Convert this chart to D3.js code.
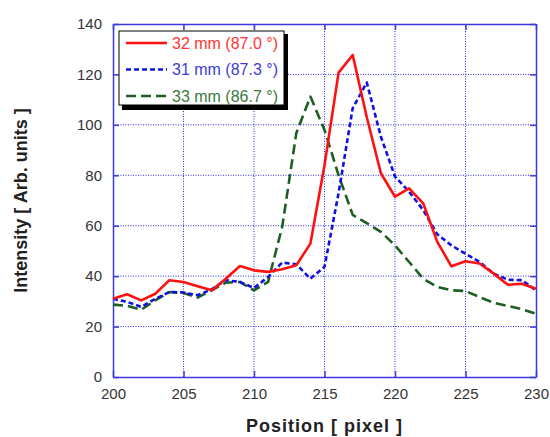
<!DOCTYPE html>
<html>
<head>
<meta charset="utf-8">
<script src="https://cdn.jsdelivr.net/npm/d3@7"></script>
<style>
  body { margin: 0; background: #fff; }
  text { font-family: "Liberation Sans", Arial, Helvetica, sans-serif; }
</style>
</head>
<body>
<svg id="chart"></svg>
<script>
// pixel positions 200..230
const positions = d3.range(200, 231);

const red32 = [31, 32.8, 30.4, 33, 38.4, 37.7, 36, 34.4, 39, 44,
  42.3, 41.7, 42.7, 44.3, 52.9, 84, 120.7, 127.7, 103, 80.8,
  71.5, 74.8, 68.9, 53.6, 43.9, 45.9, 45, 41, 36.6, 37, 35];

const blue31 = [31, 29.8, 27.8, 31, 33.7, 33.5, 32.4, 34.8, 38.4, 37.7,
  35.3, 39.7, 45.4, 44.7, 39, 43.7, 73, 106.6, 116.8, 95.3,
  79.5, 73.5, 66.2, 56.6, 52.2, 48.9, 45.6, 41, 38.6, 38.4, 34.4];

const green33 = [28.7, 28.2, 26.7, 30.4, 33.7, 33.3, 31.5, 34.4, 37.4, 37.7,
  34.4, 37.7, 59.6, 96.7, 111.2, 98, 80, 64.3, 61, 57.6,
  52.2, 45.6, 39, 35.7, 34.4, 34.1, 31.7, 29.4, 28.2, 26.9, 25.1];

const seriesNames = ['32 mm (87.0 °)', '31 mm (87.3 °)', '33 mm (86.7 °)'];
const xTicks = [200, 205, 210, 215, 220, 225, 230];
const yTicks = [0, 20, 40, 60, 80, 100, 120, 140];

const width = 550;
const height = 437;
const margin = { top: 24, right: 14, bottom: 60, left: 113 };

const svg = d3.select('#chart')
  .attr('width', width)
  .attr('height', height);

const x = d3.scaleLinear()
  .domain([200, 230])
  .range([margin.left, width - margin.right]);

const y = d3.scaleLinear()
  .domain([0, 140])
  .range([height - margin.bottom, margin.top]);

const axisColor = '#3a3ae0';

// grid
svg.append('g')
  .selectAll('line')
  .data(xTicks.slice(1, -1))
  .join('line')
  .attr('x1', d => x(d)).attr('x2', d => x(d))
  .attr('y1', y(0)).attr('y2', y(140))
  .attr('stroke', '#2a2ae8')
  .attr('stroke-width', 1)
  .attr('stroke-dasharray', '1,1.5');

svg.append('g')
  .selectAll('line')
  .data(yTicks.slice(1, -1))
  .join('line')
  .attr('x1', x(200)).attr('x2', x(230))
  .attr('y1', d => y(d)).attr('y2', d => y(d))
  .attr('stroke', '#2a2ae8')
  .attr('stroke-width', 1)
  .attr('stroke-dasharray', '1,1.5');

// axes (ticks pointing inwards on all four sides)
const styleAxis = g => {
  g.select('.domain').attr('stroke', axisColor).attr('stroke-width', 1.5);
  g.selectAll('.tick line').attr('stroke', axisColor).attr('stroke-width', 1.5);
  g.selectAll('.tick text')
    .attr('fill', '#333')
    .attr('font-size', '15px')
    .attr('font-family', '"Liberation Sans", Arial, sans-serif');
};

svg.append('g')
  .attr('transform', `translate(0,${y(0)})`)
  .call(d3.axisBottom(x).tickValues(xTicks).tickSize(-6).tickSizeOuter(0).tickPadding(11))
  .call(styleAxis);

svg.append('g')
  .attr('transform', `translate(0,${y(140)})`)
  .call(d3.axisTop(x).tickValues(xTicks).tickSize(-6).tickSizeOuter(0).tickFormat(''))
  .call(styleAxis);

svg.append('g')
  .attr('transform', `translate(${x(200)},0)`)
  .call(d3.axisLeft(y).tickValues(yTicks).tickSize(-6).tickSizeOuter(0).tickPadding(11))
  .call(styleAxis);

svg.append('g')
  .attr('transform', `translate(${x(230)},0)`)
  .call(d3.axisRight(y).tickValues(yTicks).tickSize(-6).tickSizeOuter(0).tickFormat(''))
  .call(styleAxis);

// series
const series = [
  { name: seriesNames[0], values: red32, color: '#ff1010', text: '#ff3535', dash: null },
  { name: seriesNames[1], values: blue31, color: '#1010e6', text: '#3c3cd8', dash: '5,3' },
  { name: seriesNames[2], values: green33, color: '#1d5e22', text: '#3a7a3e', dash: '10,5' }
];

const line = d3.line()
  .x((d, i) => x(positions[i]))
  .y(d => y(d));

// draw green first, then blue, then red on top
[2, 1, 0].forEach(k => {
  const s = series[k];
  svg.append('path')
    .datum(s.values)
    .attr('d', line)
    .attr('fill', 'none')
    .attr('stroke', s.color)
    .attr('stroke-width', 2.6)
    .attr('stroke-linejoin', 'round')
    .attr('stroke-dasharray', s.dash);
});

// legend
const lg = svg.append('g').attr('transform', 'translate(119,31)');
lg.append('rect')
  .attr('x', 3).attr('y', 3)
  .attr('width', 166).attr('height', 76)
  .attr('fill', '#000');
lg.append('rect')
  .attr('x', 0).attr('y', 0)
  .attr('width', 165).attr('height', 74)
  .attr('fill', '#fff')
  .attr('stroke', '#000')
  .attr('stroke-width', 1);

const rows = lg.selectAll('.row')
  .data(series)
  .join('g')
  .attr('class', 'row')
  .attr('transform', (d, i) => `translate(0,${12 + i * 26.5})`);

rows.append('line')
  .attr('x1', 7).attr('x2', 48)
  .attr('stroke', d => d.color)
  .attr('stroke-width', 2.6)
  .attr('stroke-dasharray', d => d.dash);

rows.append('text')
  .attr('x', 53)
  .attr('dy', '0.36em')
  .attr('font-size', '16px')
  .attr('fill', d => d.text)
  .text(d => d.name);

// axis titles
svg.append('text')
  .attr('x', (x(200) + x(230)) / 2)
  .attr('y', 432)
  .attr('text-anchor', 'middle')
  .attr('font-size', '18px')
  .attr('font-weight', 'bold')
  .attr('letter-spacing', '1px')
  .attr('fill', '#222')
  .text('Position [ pixel ]');

svg.append('text')
  .attr('transform', `translate(27,${(y(0) + y(140)) / 2}) rotate(-90)`)
  .attr('text-anchor', 'middle')
  .attr('font-size', '18px')
  .attr('font-weight', 'bold')
  .attr('fill', '#222')
  .text('Intensity [ Arb. units ]');
</script>
</body>
</html>
